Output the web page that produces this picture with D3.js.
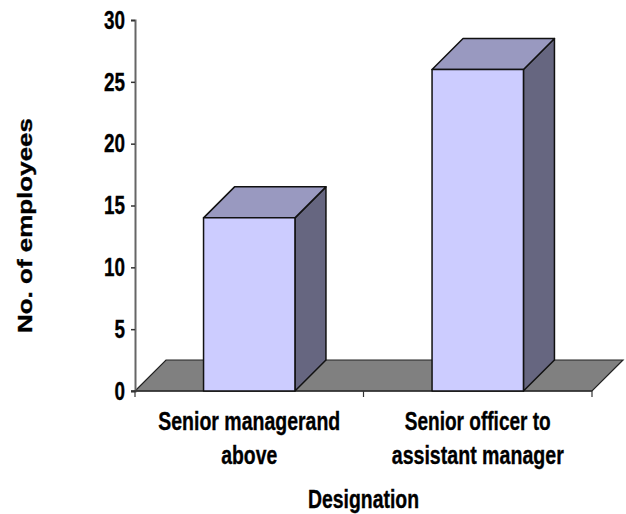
<!DOCTYPE html>
<html lang="en">
<head>
  <meta charset="UTF-8">
  <title>Employees by designation</title>
  <script src="https://d3js.org/d3.v7.min.js"></script>
  <style>
    html, body { margin: 0; padding: 0; background: #fff; }
    svg { display: block; }
    text { font-family: "Liberation Sans", Arial, sans-serif; font-weight: bold; fill: #000; stroke: #000; stroke-width: 0.35px; }
  </style>
</head>
<body>
<script>
  // values
  const categories = ["Senior managerand above", "Senior officer to assistant manager"];
  const categoryLines = [["Senior managerand", "above"], ["Senior officer to", "assistant manager"]];
  const employees = [14, 26];
  const yTicks = [0, 5, 10, 15, 20, 25, 30];
  const yLabel = "No. of employees";
  const xLabel = "Designation";

  const width = 626;
  const height = 514;
  const plotLeft = 135, plotRight = 592, plotTop = 20, plotBottom = 391;
  const depth = 31; // 3d offset, same in x and y

  const svg = d3.select("body").append("svg")
    .attr("width", width)
    .attr("height", height);

  const x = d3.scaleBand()
    .domain(categories)
    .range([plotLeft, plotRight])
    .paddingInner(0.6)
    .paddingOuter(0.3);

  const y = d3.scaleLinear()
    .domain([0, 30])
    .range([plotBottom, plotTop]);

  const poly = pts => pts.map(p => p.join(",")).join(" ");

  // floor
  svg.append("polygon")
    .attr("points", poly([[plotLeft, plotBottom], [plotRight, plotBottom], [plotRight + depth, plotBottom - depth], [plotLeft + depth, plotBottom - depth]]))
    .attr("fill", "#808080")
    .attr("stroke", "#222")
    .attr("stroke-width", 1.2);

  // y axis
  const yAxis = svg.append("g")
    .attr("transform", "translate(" + plotLeft + ",0)")
    .call(d3.axisLeft(y).tickValues(yTicks).tickSize(4).tickPadding(6));
  yAxis.select(".domain").attr("stroke", "#666").attr("stroke-width", 2);
  yAxis.selectAll(".tick line").attr("stroke", "#333").attr("stroke-width", 1.5);
  yAxis.selectAll(".tick text")
    .style("font-size", "26px")
    .attr("textLength", d => d < 10 ? 10.5 : 21)
    .attr("lengthAdjust", "spacingAndGlyphs");

  // x axis, ticks at the category borders
  const xAxis = svg.append("g")
    .attr("transform", "translate(0," + plotBottom + ")");
  xAxis.append("line")
    .attr("x1", plotLeft - 4).attr("x2", plotRight)
    .attr("stroke", "#333").attr("stroke-width", 1.5);
  xAxis.selectAll(".border")
    .data([plotLeft, (plotLeft + plotRight) / 2, plotRight])
    .enter().append("line")
    .attr("class", "border")
    .attr("x1", d => d).attr("x2", d => d)
    .attr("y1", 0).attr("y2", 6)
    .attr("stroke", "#333").attr("stroke-width", 1.2);

  // bars
  const bars = svg.selectAll(".bar")
    .data(categories.map((c, i) => ({ c: c, v: employees[i] })))
    .enter().append("g")
    .attr("class", "bar")
    .attr("stroke", "#111")
    .attr("stroke-width", 1.5)
    .attr("stroke-linejoin", "round");

  bars.append("polygon")
    .attr("fill", "#666680")
    .attr("points", d => {
      const xr = x(d.c) + x.bandwidth();
      return poly([[xr, plotBottom], [xr + depth, plotBottom - depth], [xr + depth, y(d.v) - depth], [xr, y(d.v)]]);
    });

  bars.append("polygon")
    .attr("fill", "#9999C0")
    .attr("points", d => {
      const xl = x(d.c), xr = xl + x.bandwidth();
      return poly([[xl, y(d.v)], [xr, y(d.v)], [xr + depth, y(d.v) - depth], [xl + depth, y(d.v) - depth]]);
    });

  bars.append("rect")
    .attr("fill", "#CCCCFF")
    .attr("x", d => x(d.c))
    .attr("y", d => y(d.v))
    .attr("width", x.bandwidth())
    .attr("height", d => plotBottom - y(d.v));

  // category labels, the text in the picture is squeezed so set the widths
  const lineWidths = [[182, 56], [146, 172]];
  categories.forEach((c, i) => {
    categoryLines[i].forEach((line, j) => {
      svg.append("text")
        .attr("x", x(c) + x.bandwidth() / 2)
        .attr("y", 430 + j * 34)
        .attr("text-anchor", "middle")
        .attr("textLength", lineWidths[i][j])
        .attr("lengthAdjust", "spacingAndGlyphs")
        .style("font-size", "26px")
        .text(line);
    });
  });

  // axis titles
  svg.append("text")
    .attr("x", (plotLeft + plotRight) / 2)
    .attr("y", 508)
    .attr("text-anchor", "middle")
    .attr("textLength", 111)
    .attr("lengthAdjust", "spacingAndGlyphs")
    .style("font-size", "25px")
    .text(xLabel);

  svg.append("text")
    .attr("transform", "translate(32,225.5) rotate(-90)")
    .attr("text-anchor", "middle")
    .attr("textLength", 215)
    .attr("lengthAdjust", "spacingAndGlyphs")
    .style("font-size", "20px")
    .text(yLabel);
</script>
</body>
</html>
